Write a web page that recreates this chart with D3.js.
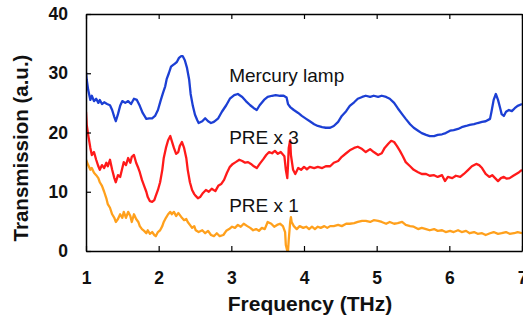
<!DOCTYPE html>
<html>
<head>
<meta charset="utf-8">
<script src="https://cdn.jsdelivr.net/npm/d3@7"></script>
<style>
  html, body { margin: 0; padding: 0; background: #fff; }
  svg { display: block; font-family: Arial, "Liberation Sans", sans-serif; }
</style>
</head>
<body>
<div id="chart"></div>
<script>
// Transmission spectra, values as [frequency THz, a.u.]
const mercuryLamp = [
  [1.00,30.2],[1.01,28.9],[1.03,27.2],[1.06,25.5],[1.08,26.2],[1.11,25.3],[1.14,25.7],[1.17,25.0],
  [1.19,25.5],[1.22,24.8],[1.25,25.1],[1.29,24.8],[1.33,24.6],[1.36,23.8],[1.39,22.6],[1.41,21.9],
  [1.44,23.1],[1.47,24.5],[1.50,25.3],[1.54,25.0],[1.58,25.3],[1.62,24.8],[1.66,25.7],[1.70,25.5],
  [1.74,24.5],[1.78,23.3],[1.83,22.3],[1.87,22.4],[1.91,22.4],[1.95,22.8],[1.99,23.8],[2.03,25.5],
  [2.06,26.7],[2.09,27.8],[2.11,29.0],[2.14,30.0],[2.17,31.1],[2.20,31.4],[2.22,31.6],[2.25,31.9],
  [2.28,32.6],[2.31,32.9],[2.33,32.9],[2.36,32.2],[2.39,30.9],[2.42,28.9],[2.44,26.5],[2.47,24.5],
  [2.50,23.0],[2.53,22.1],[2.55,21.6],[2.60,21.9],[2.64,22.4],[2.68,21.9],[2.72,21.6],[2.76,21.8],
  [2.82,22.4],[2.87,23.5],[2.93,24.6],[2.98,25.7],[3.04,26.3],[3.09,26.5],[3.15,26.0],[3.20,25.3],
  [3.26,24.6],[3.31,24.1],[3.35,23.8],[3.39,24.6],[3.45,25.5],[3.50,26.0],[3.56,26.2],[3.61,26.3],
  [3.67,26.2],[3.72,26.2],[3.76,25.9],[3.78,24.8],[3.81,24.3],[3.86,23.8],[3.92,23.3],[3.97,22.8],
  [4.03,22.3],[4.08,21.9],[4.14,21.4],[4.19,21.1],[4.25,20.9],[4.30,20.8],[4.36,20.8],[4.41,21.1],
  [4.47,21.8],[4.52,22.8],[4.58,23.6],[4.63,24.5],[4.69,25.1],[4.74,25.7],[4.80,26.0],[4.85,26.2],
  [4.91,26.0],[4.96,26.2],[5.02,26.0],[5.07,26.2],[5.13,26.0],[5.18,25.7],[5.24,25.0],[5.29,24.1],
  [5.35,23.1],[5.40,22.3],[5.46,21.4],[5.51,20.8],[5.57,20.3],[5.62,19.9],[5.68,19.6],[5.73,19.4],
  [5.79,19.4],[5.84,19.6],[5.90,19.7],[5.95,19.9],[6.01,20.3],[6.06,20.4],[6.12,20.6],[6.17,20.9],
  [6.23,21.1],[6.28,21.3],[6.34,21.4],[6.39,21.6],[6.45,21.8],[6.50,21.9],[6.56,22.3],[6.58,23.5],
  [6.61,25.5],[6.64,26.5],[6.67,25.5],[6.70,24.1],[6.72,23.1],[6.75,22.8],[6.78,23.5],[6.82,23.8],
  [6.86,23.6],[6.90,24.1],[6.94,24.5],[7.00,24.8]
];

const preX3 = [
  [1.00,23.5],[1.01,21.3],[1.03,19.6],[1.06,17.4],[1.08,16.2],[1.11,16.7],[1.14,15.4],[1.17,14.3],
  [1.19,13.7],[1.22,14.5],[1.25,14.0],[1.28,14.9],[1.30,14.3],[1.33,15.4],[1.36,13.7],[1.39,12.3],
  [1.41,11.6],[1.44,12.8],[1.47,12.5],[1.50,14.0],[1.52,15.0],[1.55,14.5],[1.58,15.7],[1.61,14.9],
  [1.63,15.9],[1.66,16.2],[1.69,14.9],[1.72,14.0],[1.74,13.3],[1.77,12.0],[1.80,11.0],[1.83,10.0],
  [1.85,9.1],[1.88,8.4],[1.91,8.3],[1.94,8.6],[1.96,9.3],[1.99,10.3],[2.02,11.6],[2.05,13.7],
  [2.07,15.7],[2.10,17.4],[2.13,18.7],[2.16,19.4],[2.18,18.6],[2.21,17.4],[2.24,16.4],[2.27,16.7],
  [2.29,17.7],[2.32,18.4],[2.35,17.4],[2.38,15.7],[2.40,13.7],[2.43,11.6],[2.46,10.3],[2.49,9.6],
  [2.51,9.3],[2.54,8.9],[2.57,9.1],[2.61,9.8],[2.65,10.3],[2.69,10.0],[2.73,10.5],[2.78,10.1],
  [2.82,11.0],[2.86,11.3],[2.90,12.0],[2.94,13.2],[2.98,14.2],[3.02,14.7],[3.06,15.0],[3.11,15.4],
  [3.15,15.2],[3.19,14.9],[3.23,15.0],[3.27,14.7],[3.31,14.3],[3.35,14.0],[3.39,14.7],[3.44,15.5],
  [3.48,16.2],[3.52,16.7],[3.56,16.5],[3.60,16.9],[3.64,16.4],[3.68,16.7],[3.73,16.0],[3.75,13.7],
  [3.77,12.3],[3.78,14.5],[3.79,17.4],[3.81,18.7],[3.82,16.2],[3.85,13.7],[3.88,13.0],[3.92,14.0],
  [3.96,13.7],[4.00,14.2],[4.04,13.8],[4.08,14.2],[4.14,14.0],[4.19,14.2],[4.25,14.0],[4.30,14.3],
  [4.36,14.3],[4.41,14.9],[4.47,15.2],[4.52,15.9],[4.58,16.5],[4.63,17.0],[4.69,17.4],[4.74,17.6],
  [4.80,17.2],[4.85,16.7],[4.91,17.2],[4.96,16.7],[5.02,16.2],[5.07,16.5],[5.11,17.4],[5.16,18.1],
  [5.20,18.6],[5.24,18.4],[5.28,17.7],[5.32,16.9],[5.36,16.0],[5.40,15.0],[5.46,14.3],[5.51,13.7],
  [5.57,13.3],[5.62,13.0],[5.68,13.0],[5.73,12.7],[5.79,12.8],[5.84,12.5],[5.90,12.8],[5.94,11.8],
  [5.98,12.5],[6.04,12.3],[6.09,12.7],[6.15,12.5],[6.20,13.0],[6.26,13.7],[6.31,14.3],[6.37,14.7],
  [6.41,14.5],[6.45,14.0],[6.50,13.0],[6.55,12.5],[6.59,12.8],[6.63,12.3],[6.67,11.8],[6.71,12.3],
  [6.75,12.5],[6.79,12.2],[6.83,12.3],[6.88,12.7],[6.92,13.0],[6.96,13.3],[7.00,13.7]
];

const preX1 = [
  [1.00,15.4],[1.03,14.5],[1.06,13.7],[1.08,14.0],[1.11,13.2],[1.14,12.8],[1.17,12.3],[1.19,11.6],
  [1.22,11.0],[1.25,10.0],[1.28,8.9],[1.30,7.9],[1.33,7.3],[1.36,6.2],[1.39,5.6],[1.41,4.9],
  [1.44,5.4],[1.47,6.2],[1.50,5.6],[1.52,6.6],[1.55,5.6],[1.58,6.6],[1.61,5.9],[1.63,4.9],
  [1.66,6.2],[1.69,5.4],[1.72,4.9],[1.74,4.2],[1.77,3.7],[1.80,3.4],[1.83,3.0],[1.85,3.5],
  [1.88,2.9],[1.91,3.2],[1.94,2.7],[1.96,2.5],[1.99,3.2],[2.02,3.5],[2.05,4.2],[2.07,4.9],
  [2.10,5.6],[2.13,6.2],[2.16,6.6],[2.18,6.2],[2.21,6.6],[2.24,5.9],[2.27,6.4],[2.29,6.1],
  [2.32,5.6],[2.35,5.2],[2.38,5.4],[2.40,4.9],[2.43,4.4],[2.46,3.9],[2.49,4.2],[2.51,3.5],
  [2.55,3.2],[2.60,3.5],[2.64,3.0],[2.68,3.4],[2.72,2.7],[2.76,2.5],[2.80,3.0],[2.84,2.5],
  [2.89,2.7],[2.93,3.4],[2.97,3.7],[3.01,4.1],[3.05,3.9],[3.09,4.4],[3.13,4.1],[3.17,4.6],
  [3.22,4.2],[3.26,3.9],[3.30,3.5],[3.34,3.7],[3.38,3.4],[3.42,3.9],[3.46,3.7],[3.50,4.9],
  [3.55,4.6],[3.59,4.1],[3.63,4.4],[3.67,4.6],[3.71,4.2],[3.74,3.2],[3.75,1.0],[3.77,0.0],
  [3.78,0.0],[3.79,1.9],[3.81,4.9],[3.82,5.7],[3.83,4.9],[3.86,4.2],[3.90,3.7],[3.94,4.2],
  [3.99,3.9],[4.03,4.1],[4.07,3.7],[4.11,4.1],[4.15,3.7],[4.19,4.1],[4.23,3.9],[4.28,4.2],
  [4.32,3.9],[4.36,4.2],[4.41,4.2],[4.47,4.4],[4.52,4.2],[4.58,4.6],[4.63,4.6],[4.69,4.7],
  [4.74,4.9],[4.80,5.1],[4.85,5.1],[4.91,4.9],[4.96,5.2],[5.02,5.1],[5.07,4.9],[5.13,4.6],
  [5.18,4.9],[5.24,4.6],[5.29,4.7],[5.35,4.9],[5.40,4.4],[5.46,4.2],[5.51,4.1],[5.57,3.7],
  [5.62,3.9],[5.68,3.7],[5.73,3.5],[5.79,3.7],[5.84,3.4],[5.90,3.5],[5.95,3.2],[6.01,3.4],
  [6.06,3.2],[6.12,3.5],[6.17,3.2],[6.23,3.4],[6.28,3.0],[6.34,3.2],[6.39,2.9],[6.45,3.0],
  [6.50,2.7],[6.56,3.0],[6.61,3.2],[6.67,2.9],[6.72,3.0],[6.78,3.2],[6.83,2.9],[6.89,3.0],
  [6.94,3.2],[7.00,3.0]
];

const xTicks = [1, 2, 3, 4, 5, 6, 7];
const yTicks = [0, 10, 20, 30, 40];
const seriesNames = ["Mercury lamp", "PRE x 3", "PRE x 1"];
const seriesColors = ["#1c3fd4", "#ff1a1a", "#ffa01c"];
// where each series name sits, in data units
const labelPos = [[2.97, 28.6], [2.97, 18.0], [2.97, 6.6]];

(function () {
  const width = 523, height = 325;
  const margin = { top: 14, right: 1, bottom: 74, left: 86 };

  const svg = d3.select("#chart").append("svg")
    .attr("width", width)
    .attr("height", height);

  const x = d3.scaleLinear().domain([1, 7]).range([margin.left, width - margin.right]);
  const y = d3.scaleLinear().domain([0, 40]).range([height - margin.bottom, margin.top]);

  const line = d3.line()
    .x(d => x(d[0]))
    .y(d => y(d[1]))
    .curve(d3.curveLinear);

  // data lines, clipped to the plot area
  svg.append("clipPath").attr("id", "plot-clip")
    .append("rect")
    .attr("x", x(1)).attr("y", y(40))
    .attr("width", x(7) - x(1)).attr("height", y(0) - y(40));

  const plot = svg.append("g").attr("clip-path", "url(#plot-clip)");
  [mercuryLamp, preX3, preX1].forEach((s, i) => {
    plot.append("path")
      .datum(s)
      .attr("fill", "none")
      .attr("stroke", seriesColors[i])
      .attr("stroke-width", 2.3)
      .attr("stroke-linejoin", "round")
      .attr("d", line);
  });

  // frame: axes with inward ticks
  const tickLen = 5;
  const axisStyle = g => {
    g.select(".domain").attr("stroke", "#000").attr("stroke-width", 1.5);
    g.selectAll(".tick line").attr("stroke", "#000").attr("stroke-width", 1.2);
  };

  svg.append("g")
    .attr("transform", `translate(0,${y(0)})`)
    .call(d3.axisBottom(x).tickValues(xTicks).tickFormat(d3.format("d"))
      .tickSizeInner(-tickLen).tickSizeOuter(0).tickPadding(21))
    .call(axisStyle)
    .call(g => g.selectAll(".tick text")
      .attr("fill", "#111").attr("font-size", 17.5).attr("font-weight", "bold"));

  svg.append("g")
    .attr("transform", `translate(0,${y(40)})`)
    .call(d3.axisTop(x).tickValues(xTicks).tickSizeInner(-tickLen).tickSizeOuter(0).tickFormat(""))
    .call(axisStyle);

  svg.append("g")
    .attr("transform", `translate(${x(1)},0)`)
    .call(d3.axisLeft(y).tickValues(yTicks).tickSizeInner(-tickLen).tickSizeOuter(0).tickPadding(18))
    .call(axisStyle)
    .call(g => g.selectAll(".tick text")
      .attr("fill", "#111").attr("font-size", 17.5).attr("font-weight", "bold"));

  svg.append("g")
    .attr("transform", `translate(${x(7)},0)`)
    .call(d3.axisRight(y).tickValues(yTicks).tickSize(0).tickFormat(""))
    .call(axisStyle);

  // series names
  svg.selectAll("text.series-label")
    .data(seriesNames)
    .join("text")
    .attr("class", "series-label")
    .attr("x", (d, i) => x(labelPos[i][0]))
    .attr("y", (d, i) => y(labelPos[i][1]))
    .attr("font-size", 19)
    .attr("fill", "#111")
    .text(d => d);

  // axis titles
  svg.append("text")
    .attr("x", 310)
    .attr("y", 311)
    .attr("text-anchor", "middle")
    .attr("font-size", 21)
    .attr("font-weight", "bold")
    .attr("fill", "#111")
    .text("Frequency (THz)");

  svg.append("text")
    .attr("transform", `translate(28,148) rotate(-90)`)
    .attr("text-anchor", "middle")
    .attr("font-size", 20.5)
    .attr("font-weight", "bold")
    .attr("fill", "#111")
    .text("Transmission (a.u.)");
})();
</script>
</body>
</html>
